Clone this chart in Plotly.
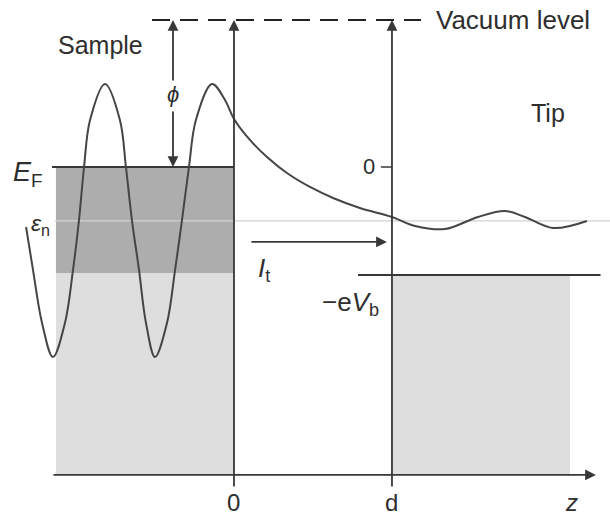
import plotly.graph_objects as go

# ---- diagram values (z in units where d = 10, energy with E_F = 0, vacuum = 10) ----
D = 10.0
VACUUM = 10.0
E_F = 0.0
EPS_N = -3.67
SAMPLE_OCC_BOTTOM = -7.21
TIP_LEVEL = -7.35
BAND_BOTTOM = -20.95
SAMPLE_LEFT = -11.27
TIP_RIGHT = 21.27
AXIS_LEFT = -11.52
AXIS_RIGHT = 22.91
AXIS_TAIL = -21.84

# wavefunction curve
wave_z = [-13.16, -12.72, -12.15, -11.46, -10.70, -10.19, -9.81, -9.49, -9.11, -8.16,
          -7.22, -6.84, -6.46, -6.01, -5.57, -5.00, -4.24, -3.73, -3.29, -2.85,
          -2.41, -1.39, -0.57, 0.0, 1.01, 2.09, 3.35, 4.81, 6.27, 7.97,
          10.0, 11.46, 13.35, 15.44, 17.15, 18.42, 20.19, 22.34]
wave_e = [-4.08, -7.01, -10.61, -12.93, -10.61, -7.01, -3.61, 0.0, 3.20, 5.65,
          3.20, 0.0, -3.61, -7.01, -10.61, -12.93, -10.61, -7.01, -3.61, 0.0,
          3.20, 5.65, 4.56, 3.27, 1.84, 0.68, -0.41, -1.36, -2.11, -2.79,
          -3.40, -4.01, -4.22, -3.40, -2.99, -3.40, -4.15, -3.67]

# tick labels
bottom_ticks = [0.0, D, 21.39]
bottom_labels = ["0", "d", "<i>z</i>"]

LINE = "#383838"
TXT = "#2e2e2e"
DARK = "#adadad"
LIGHT = "#dedede"
FONT = "Liberation Sans, Arial, sans-serif"

fig = go.Figure()
fig.add_trace(go.Scatter(x=wave_z, y=wave_e, mode="lines",
                         line=dict(color="#454545", width=2, shape="spline", smoothing=1.0),
                         hoverinfo="skip", showlegend=False))

shapes = []
# filled bands
shapes.append(dict(type="rect", x0=SAMPLE_LEFT, x1=0, y0=SAMPLE_OCC_BOTTOM, y1=E_F,
                   fillcolor=DARK, line=dict(width=0), layer="below"))
shapes.append(dict(type="rect", x0=SAMPLE_LEFT, x1=0, y0=BAND_BOTTOM, y1=SAMPLE_OCC_BOTTOM,
                   fillcolor=LIGHT, line=dict(width=0), layer="below"))
shapes.append(dict(type="rect", x0=D, x1=TIP_RIGHT, y0=BAND_BOTTOM, y1=TIP_LEVEL,
                   fillcolor=LIGHT, line=dict(width=0), layer="below"))
# eps_n level
shapes.append(dict(type="line", x0=-11.33, x1=23.8, y0=EPS_N, y1=EPS_N,
                   line=dict(color="#d2d2d2", width=1.2), layer="below"))
# Fermi level and tip level
shapes.append(dict(type="line", x0=AXIS_LEFT, x1=0, y0=E_F, y1=E_F,
                   line=dict(color=LINE, width=2), layer="below"))
shapes.append(dict(type="line", x0=7.85, x1=23.2, y0=TIP_LEVEL, y1=TIP_LEVEL,
                   line=dict(color=LINE, width=2), layer="below"))
# vacuum level (dashed)
shapes.append(dict(type="line", x0=-5.19, x1=11.84, y0=VACUUM, y1=VACUUM,
                   line=dict(color="#222222", width=2, dash="18px,10px"), layer="below"))
# tick for "0" on tip axis
shapes.append(dict(type="line", x0=9.3, x1=D, y0=0, y1=0,
                   line=dict(color=LINE, width=1.5), layer="below"))

annotations = []

def arrow(x, y, ax, ay, width=1.8, size=1.2):
    return dict(x=x, y=y, ax=ax, ay=ay, xref="x", yref="y", axref="x", ayref="y",
                showarrow=True, text="", arrowhead=2, arrowsize=size,
                arrowwidth=width, arrowcolor=LINE, standoff=0, startstandoff=0)

annotations.append(arrow(0, VACUUM, 0, AXIS_TAIL))
annotations.append(arrow(D, VACUUM, D, AXIS_TAIL))
annotations.append(arrow(AXIS_RIGHT, BAND_BOTTOM, AXIS_LEFT, BAND_BOTTOM))
annotations.append(arrow(9.68, -5.10, 1.01, -5.10))
annotations.append(arrow(-3.86, VACUUM, -3.86, 5.78))
annotations.append(arrow(-3.86, E_F, -3.86, 3.88))

def label(x, y, text, size=24, xanchor="center", yanchor="middle"):
    return dict(x=x, y=y, xref="x", yref="y", text=text, showarrow=False,
                xanchor=xanchor, yanchor=yanchor,
                font=dict(family=FONT, size=size, color=TXT))

annotations.append(label(-8.48, 8.30, "Sample", 25))
annotations.append(label(12.65, VACUUM, "Vacuum level", 26, xanchor="left"))
annotations.append(label(19.87, 3.67, "Tip", 25))
annotations.append(label(-3.86, 4.9, "<i>ϕ</i>", 22))
annotations.append(label(-14.1, -0.5, "<i>E</i><sub>F</sub>", 27, xanchor="left"))
annotations.append(label(-13.0, -3.9, "<i>ε</i><sub>n</sub>", 23, xanchor="left"))
annotations.append(label(1.4, -7.0, "<i>I</i><sub>t</sub>", 26, xanchor="left"))
annotations.append(label(9.3, -9.3, "−e<i>V</i><sub>b</sub>", 26, xanchor="right"))
annotations.append(label(9.05, 0, "0", 22, xanchor="right"))
for xv, tl in zip(bottom_ticks, bottom_labels):
    annotations.append(label(xv, -22.79, tl, 24))

fig.update_layout(
    width=610, height=517,
    margin=dict(l=0, r=0, t=0, b=0),
    paper_bgcolor="white", plot_bgcolor="white",
    xaxis=dict(range=[-14.81, 23.80], visible=False, fixedrange=True),
    yaxis=dict(range=[-23.81, 11.36], visible=False, fixedrange=True),
    shapes=shapes, annotations=annotations, showlegend=False,
)

fig.write_html("out.html")
